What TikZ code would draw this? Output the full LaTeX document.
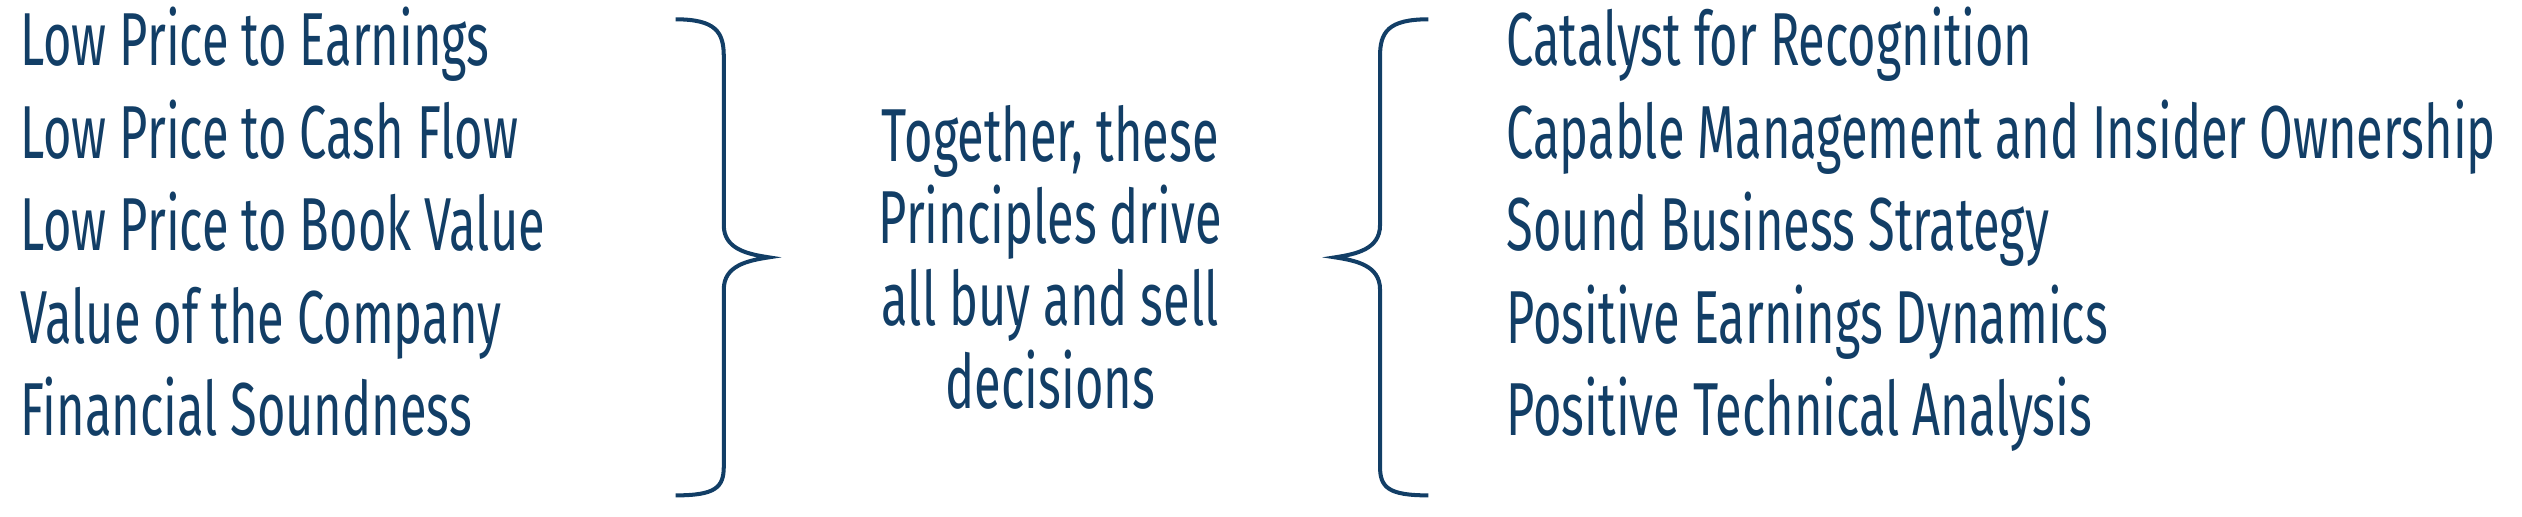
\documentclass[tikz,border=0pt]{standalone}
\usepackage{fontspec}
\setmainfont[FakeStretch=0.65]{Fira Sans}
\definecolor{navy}{RGB}{18,62,102}
\begin{document}
\begin{tikzpicture}[x=0.3pt,y=-0.3pt,
  lbl/.style={anchor=base west,inner sep=0pt,text=navy,font=\fontsize{14}{16}\selectfont},
  brace/.style={draw=navy,line width=0.75pt}]
\useasboundingbox (0,0) rectangle (1568,321.4);
\foreach \t [count=\i] in {Low Price to Earnings,Low Price to Cash Flow,Low Price to Book Value,Value of the Company,Financial Soundness}
  \node[lbl] (l\i) at (12,41+57.5*\i-57.5) {\t};
\foreach \t [count=\i] in {Catalyst for Recognition,Capable Management and Insider Ownership,Sound Business Strategy,Positive Earnings Dynamics,Positive Technical Analysis}
  \node[lbl] (r\i) at (936,41+57.5*\i-57.5) {\t};
\node[inner sep=0pt,text=navy,align=center,font=\fontsize{14}{15.3}\selectfont] (c) at (653,160) {Together, these\\Principles drive\\all buy and sell\\decisions};
\draw[brace] (420,12) .. controls (445,12) and (450,20) .. (450,35) -- (450,140) .. controls (450,155) and (465,158) .. (478,160) .. controls (465,162) and (450,165) .. (450,180) -- (450,290) .. controls (450,303) and (445,308) .. (420,308);
\draw[brace] (888,12) .. controls (863,12) and (858,20) .. (858,35) -- (858,140) .. controls (858,155) and (843,158) .. (830,160) .. controls (843,162) and (858,165) .. (858,180) -- (858,290) .. controls (858,303) and (863,308) .. (888,308);
\end{tikzpicture}
\end{document}
